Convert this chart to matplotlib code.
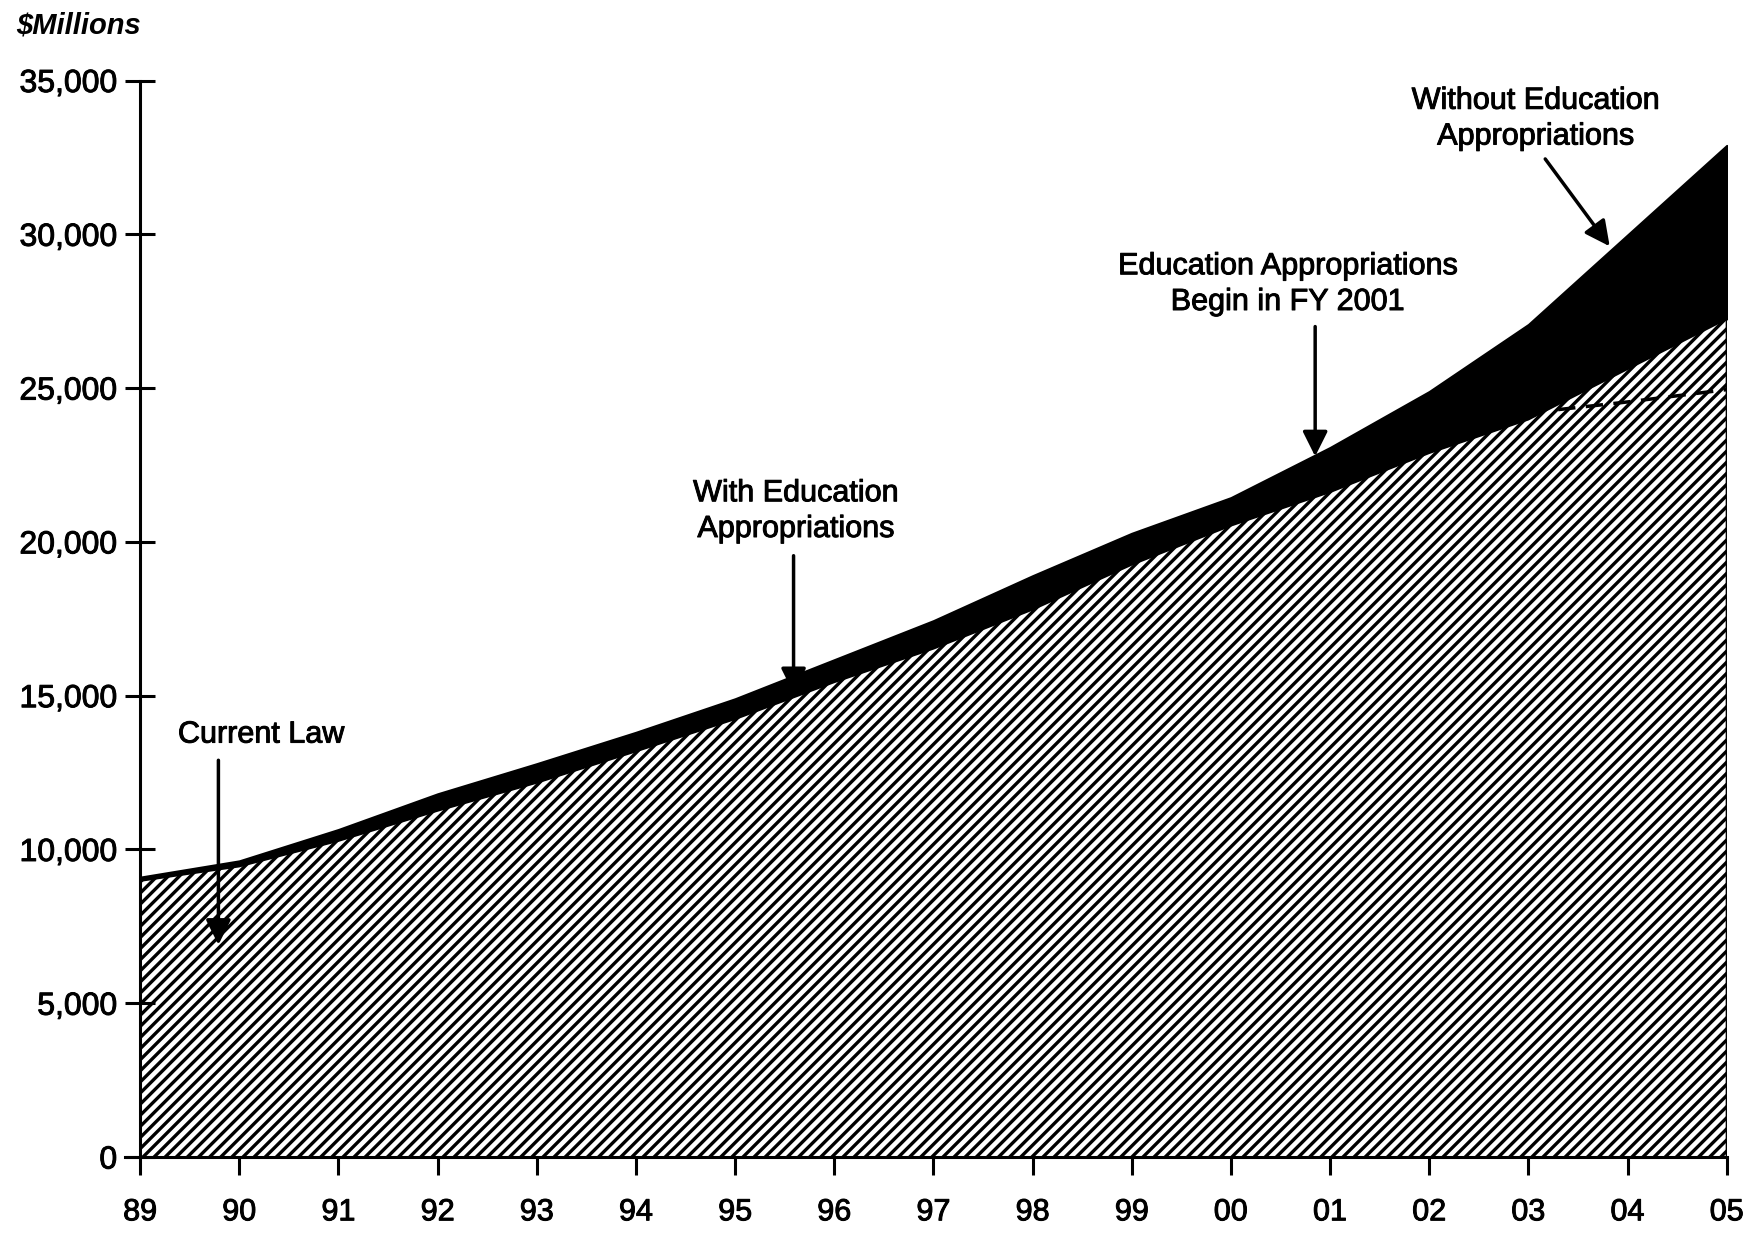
import numpy as np
import matplotlib.pyplot as plt
import matplotlib.patheffects as pe

plt.rcParams['font.family'] = ['Liberation Sans', 'DejaVu Sans']
plt.rcParams['hatch.linewidth'] = 2.4
plt.rcParams['hatch.color'] = 'black'

# fiscal years and values ($ millions)
years = [1989, 1990, 1991, 1992, 1993, 1994, 1995, 1996, 1997,
         1998, 1999, 2000, 2001, 2002, 2003, 2004, 2005]
current_law = [8980, 9450, 10280, 11260, 12170, 13190, 14240, 15440, 16530,
               17800, 19260, 20530, 21620, 22890, 23980, 25620, 27250]
without_educ = [9100, 9630, 10650, 11810, 12790, 13810, 14900, 16170, 17440,
                18900, 20280, 21440, 23070, 24890, 27070, 29980, 32890]
with_educ_years = [2003.3, 2004, 2005]
with_educ = [24300, 24550, 24950]

xtick_labels = ['89', '90', '91', '92', '93', '94', '95', '96', '97',
                '98', '99', '00', '01', '02', '03', '04', '05']
ytick_vals = [0, 5000, 10000, 15000, 20000, 25000, 30000, 35000]
ytick_labels = ['0', '5,000', '10,000', '15,000', '20,000', '25,000', '30,000', '35,000']

# slightly heavier strokes, like the scanned type
heavy = [pe.withStroke(linewidth=0.7, foreground='black')]

fig = plt.figure(figsize=(17.53, 12.33), dpi=100)
ax = fig.add_axes([0.0799, 0.0616, 0.9051, 0.8731])

ax.fill_between(years, current_law, without_educ, color='black', lw=1.5)
ax.fill_between(years, 0, current_law, facecolor='white', edgecolor='black',
                hatch='///', lw=1.5)
ax.plot(with_educ_years, with_educ, color='black', lw=2.5, ls=(0, (5, 3)))

ax.set_xlim(1989, 2005)
ax.set_ylim(0, 35000)
ax.set_xticks(years)
ax.set_xticklabels(xtick_labels)
ax.set_yticks(ytick_vals)
ax.set_yticklabels(ytick_labels)

for s in ['top', 'right']:
    ax.spines[s].set_visible(False)
for s in ['left', 'bottom']:
    ax.spines[s].set_linewidth(2.2)
ax.spines['bottom'].set_bounds(1988.85, 2005)

ax.tick_params(axis='x', direction='out', length=13, width=2.2, pad=16, labelsize=22)
ax.tick_params(axis='y', direction='inout', length=21, width=2.2, pad=6, labelsize=23)
for lab in ax.get_xticklabels() + ax.get_yticklabels():
    lab.set_path_effects(heavy)

fig.text(0.009, 0.979, '$Millions', fontsize=21, style='italic', weight='bold',
         ha='left', va='center')

arrow = dict(arrowstyle='-|>', lw=2.5, color='black', mutation_scale=38,
             shrinkA=0, shrinkB=0)
fs = 22

t1 = ax.text(1990.22, 13735, 'Current Law', fontsize=fs, ha='center', va='center')
ax.annotate('', xy=(1989.79, 6900), xytext=(1989.79, 12900), arrowprops=arrow)

t2 = ax.text(1995.61, 21000, 'With Education\nAppropriations', fontsize=fs,
             ha='center', va='center', linespacing=1.25)
ax.annotate('', xy=(1995.59, 15080), xytext=(1995.59, 19550), arrowprops=arrow)

t3 = ax.text(2000.57, 28380, 'Education Appropriations\nBegin in FY 2001', fontsize=fs,
             ha='center', va='center', linespacing=1.25)
ax.annotate('', xy=(2000.85, 22780), xytext=(2000.85, 27000), arrowprops=arrow)

t4 = ax.text(2003.07, 33760, 'Without Education\nAppropriations', fontsize=fs,
             ha='center', va='center', linespacing=1.25)
ax.annotate('', xy=(2003.82, 29610), xytext=(2003.17, 32450), arrowprops=arrow)

for t in [t1, t2, t3, t4]:
    t.set_path_effects(heavy)

plt.savefig('out.png', dpi=100)
plt.close(fig)
